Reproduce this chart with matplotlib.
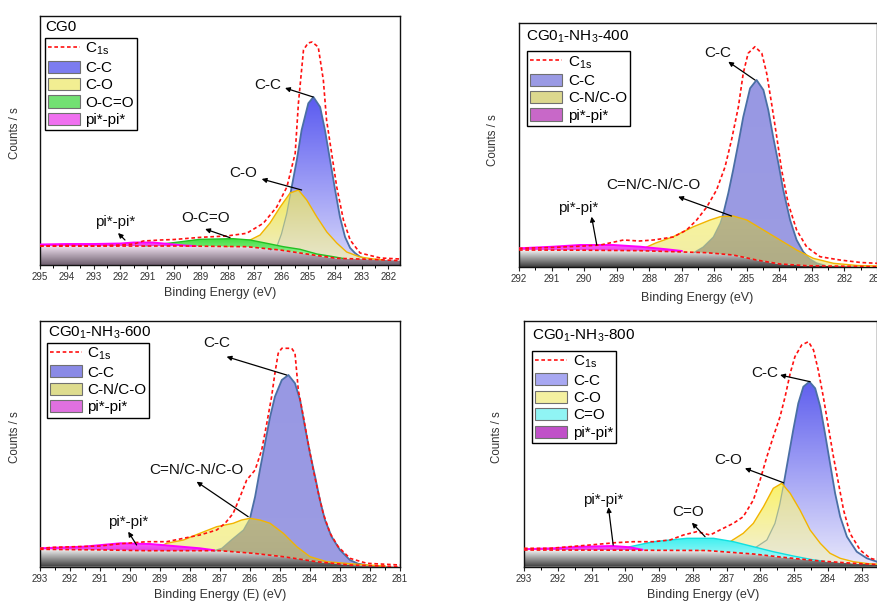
import numpy as np
import matplotlib
matplotlib.use("Agg")
import matplotlib.pyplot as plt
from matplotlib.patches import Polygon, Patch
from matplotlib.lines import Line2D
from matplotlib.ticker import MultipleLocator
from matplotlib.colors import to_rgb

plt.rcParams['font.family'] = ['Liberation Sans', 'DejaVu Sans']
plt.rcParams['mathtext.fontset'] = 'custom'
plt.rcParams['mathtext.rm'] = 'Liberation Sans'
plt.rcParams['mathtext.it'] = 'Liberation Sans:italic'

# ---------------- data (binding energy eV, intensity in arbitrary units) ----------------
# Panel 1 : CG0
p1_bg_E = [295, 289.78, 287.29, 286.04, 284.8, 283.93, 282.5, 281.57]
p1_bg_y = [18.8, 19.0, 18.3, 15.0, 10.0, 6.7, 5.5, 4.3]
p1_c1s_E = [295, 294, 293, 292, 291.5, 291.15, 290.5, 290, 289, 288.03, 287.29, 286.67, 286.17,
            285.79, 285.48, 285.36, 285.17, 285.0, 284.85, 284.62, 284.43, 284.31, 284.12, 283.93,
            283.68, 283.43, 283.06, 282.3, 281.57]
p1_c1s_y = [19, 19.5, 19, 20, 21, 24, 25, 25.5, 27.7, 29, 31.7, 41.7, 58, 78, 111.7, 161.7, 215,
            222, 223, 218, 185, 145, 111.7, 78, 45, 25, 12, 7, 6]
p1_cc_E = [286.4, 286.17, 285.98, 285.79, 285.61, 285.42, 285.24, 284.99, 284.8, 284.55, 284.37,
           284.18, 283.99, 283.81, 283.62, 283.43, 283.25, 283.05, 282.85]
p1_cc_y = [15.5, 18, 32, 52, 78, 105, 135, 161.7, 168, 158, 135, 105, 75, 48, 28, 17, 12, 8, 5.8]
p1_co_E = [288.0, 287.54, 287.16, 286.79, 286.42, 286.04, 285.67, 285.36, 285.05, 284.67, 284.3,
           283.93, 283.56, 283.06, 282.56, 282.2]
p1_co_y = [18.5, 22, 25, 30, 42, 58, 72, 75, 65, 48, 33, 22, 13, 8, 6, 5.2]
p1_ococ_E = [291.15, 290.03, 289.03, 287.79, 287.16, 286.54, 285.92, 285.3, 284.67, 284.06, 283.7]
p1_ococ_y = [19, 22.3, 25.7, 26.3, 25, 21.7, 18.3, 15.7, 11, 8.3, 6.6]
p1_pi_E = [295, 294, 293, 292, 291.5, 290.8, 290.2, 289.6, 289.2]
p1_pi_y = [20.5, 21, 21, 21.5, 22.5, 22.5, 21, 19.5, 19]

# Panel 2 : CG0_1-NH3-400
p2_bg_E = [292, 290, 288.28, 286.23, 285.42, 284.7, 283.98, 283.16, 281]
p2_bg_y = [17, 16.8, 16.3, 14.3, 12, 7, 3, 1.3, 0.3]
p2_c1s_E = [292, 291, 290, 289.5, 288.79, 288.3, 287.87, 287.26, 286.85, 286.54, 286.23, 285.93,
            285.67, 285.47, 285.26, 285.11, 284.96, 284.75, 284.54, 284.39, 284.24, 284.08, 283.93,
            283.73, 283.47, 283.16, 282.75, 282.14, 281.5, 281]
p2_c1s_y = [18.7, 19.5, 21, 22, 27, 26, 27, 30, 37, 47, 60, 77, 100, 127, 160, 193.7, 213.7, 220.3,
            213.7, 193.7, 163.7, 130, 97, 63.7, 37, 20, 10.3, 7, 4.5, 3.7]
p2_cc_E = [286.6, 286.34, 286.03, 285.82, 285.72, 285.57, 285.42, 285.26, 285.11, 284.9, 284.7,
           284.49, 284.34, 284.19, 284.03, 283.88, 283.67, 283.47, 283.27, 283.06, 282.85, 282.6]
p2_cc_y = [15, 20, 30, 43.7, 53.7, 73.7, 97, 123.7, 150, 178.7, 187, 177, 157, 130, 103.7, 77, 47,
           27, 15.3, 8, 4, 1.8]
p2_co_E = [288.28, 287.8, 287.26, 286.64, 286.13, 285.82, 285.42, 285.0, 284.49, 283.98, 283.47,
           282.96, 282.34, 281.6, 281.0]
p2_co_y = [17, 24, 30.3, 40.3, 47, 50.3, 51, 47, 37, 27, 17, 8.7, 3.7, 1.5, 1]
p2_pi_E = [292, 290.95, 290.13, 289.1, 288.28, 287.46, 287.0]
p2_pi_y = [18.7, 20.3, 22, 22, 20.3, 17.7, 16]

# Panel 3 : CG0_1-NH3-600
p3_bg_E = [293, 291, 289.44, 287.0, 285.89, 284.89, 283.78, 282.67, 281]
p3_bg_y = [17.4, 16.8, 16, 16, 13.4, 10, 5, 1.7, 0]
p3_c1s_E = [293, 292.56, 291.0, 290.3, 289.44, 288.78, 288.22, 287.67, 287.11, 286.83, 286.56,
            286.33, 286.11, 285.83, 285.61, 285.44, 285.28, 285.17, 285.06, 284.94, 284.61, 284.5,
            284.39, 284.22, 284.06, 283.89, 283.72, 283.56, 283.33, 283.06, 282.67, 282.11, 281]
p3_c1s_y = [18.4, 19.4, 20.7, 23, 25, 25, 28.4, 31.7, 36.7, 43.4, 53.4, 70, 86.7, 96.7, 116.7,
            143.4, 170, 193.4, 213.4, 218.4, 218.4, 213.4, 176.7, 150, 123.4, 96.7, 73.4, 53.4,
            33.4, 20, 8.4, 3.4, 1.7]
p3_cc_E = [287.2, 286.94, 286.56, 286.22, 286.0, 285.83, 285.67, 285.5, 285.33, 285.17, 284.94,
           284.72, 284.5, 284.33, 284.17, 284.0, 283.83, 283.67, 283.5, 283.28, 283.0, 282.67,
           282.4, 282.1]
p3_cc_y = [16, 18.4, 28.4, 36.7, 48.4, 70, 96.7, 123.4, 150, 170, 186.7, 191.7, 183.4, 166.7, 140,
           113.4, 90, 66.7, 46.7, 30, 16.7, 6.7, 3, 1.5]
p3_co_E = [289.0, 288.78, 288.22, 287.67, 287.11, 286.56, 286.28, 286.0, 285.67, 285.33, 284.89,
           284.44, 284.0, 283.44, 282.67, 282.0, 281.5]
p3_co_y = [20, 23.4, 26.7, 33.4, 40, 43.4, 46.7, 48.4, 46.7, 43.4, 33.4, 20, 10, 5, 3, 1.5, 0.8]
p3_pi_E = [293, 291.56, 290.33, 289.33, 288.56, 287.67, 287.2]
p3_pi_y = [18.4, 20, 23.4, 22.7, 20.7, 18.4, 16.5]

# Panel 4 : CG0_1-NH3-800
p4_bg_E = [293, 290, 287.6, 286.21, 285.22, 284.23, 283.25, 282.55]
p4_bg_y = [16.7, 16.5, 16.2, 12.7, 9, 5.7, 3.4, 2.2]
p4_c1s_E = [293, 292.23, 291.05, 290.3, 289.76, 289.17, 288.68, 288.28, 287.89, 287.49, 287.2,
            286.8, 286.51, 286.21, 286.01, 285.81, 285.62, 285.42, 285.27, 285.12, 284.98, 284.78,
            284.58, 284.43, 284.29, 284.14, 283.99, 283.84, 283.69, 283.54, 283.35, 283.05,
            282.75, 282.55]
p4_c1s_y = [18.4, 18.4, 21.7, 24, 25, 25, 26.7, 31.7, 35, 31.7, 36.7, 43.4, 50, 66.7, 86.7, 110,
            130, 150, 170, 193.4, 210, 221.7, 225, 216.7, 196.7, 170, 140, 110, 83.4, 56.7, 33.4,
            16.7, 8.4, 6.7]
p4_cc_E = [286.4, 286.11, 285.81, 285.57, 285.42, 285.3, 285.17, 285.03, 284.88, 284.73, 284.55,
           284.38, 284.23, 284.09, 283.94, 283.79, 283.64, 283.44, 283.15, 282.85, 282.55]
p4_cc_y = [13.5, 20, 26.7, 43.4, 63.4, 85, 110, 136.7, 163.4, 180, 185, 178.4, 160, 133.4, 103.4,
           73.4, 50, 30, 15, 8.4, 5]
p4_co_E = [287.8, 287.49, 286.9, 286.51, 286.21, 285.91, 285.62, 285.37, 285.12, 284.83, 284.53,
           284.23, 283.94, 283.64, 283.25, 282.8, 282.55]
p4_co_y = [16.5, 18.4, 25, 33.4, 43.4, 60, 78.4, 83.4, 73.4, 56.7, 36.7, 23.4, 13.4, 8.4, 5, 3, 2.5]
p4_cdo_E = [290.16, 289.86, 289.17, 288.18, 287.39, 286.8, 286.21, 285.62, 285.03, 284.43, 284.1]
p4_cdo_y = [17, 20, 25, 28.4, 28.4, 25, 20, 15, 10.7, 6.8, 5.4]
p4_pi_E = [293, 292.13, 291.34, 290.36, 289.86, 289.5]
p4_pi_y = [17.5, 18.4, 20, 20.7, 19.4, 17]

# ---------------- figure ----------------
W, Hf = 878, 601
fig = plt.figure(figsize=(W / 100, Hf / 100), dpi=100)

ANN_FS = 11
LEG_FS = 11
TITLE_FS = 11
TICK_FS = 7
XLAB_FS = 9
YLAB_FS = 8.3


def px_axes(x0, x1, ytop, ybot):
    return fig.add_axes([x0 / W, 1 - ybot / Hf, (x1 - x0) / W, (ybot - ytop) / Hf])


def grad_fill(ax, xs, top, bot, c_top, c_bot, z, alpha=1.0):
    mask = top > bot + 1e-6
    if not mask.any():
        return
    verts = np.column_stack([np.r_[xs, xs[::-1]], np.r_[top, bot[::-1]]])
    poly = Polygon(verts, closed=True, facecolor='none', edgecolor='none')
    ax.add_patch(poly)
    t = np.linspace(0, 1, 256)[:, None]
    ct, cb = np.array(to_rgb(c_top)), np.array(to_rgb(c_bot))
    img = (ct[None, None, :] * (1 - t[:, :, None]) + cb[None, None, :] * t[:, :, None])
    ylo = bot[mask].min()
    yhi = top[mask].max()
    im = ax.imshow(img, extent=[xs.min(), xs.max(), ylo, yhi], aspect='auto',
                   origin='upper', zorder=z, alpha=alpha, interpolation='bilinear')
    im.set_clip_path(poly)


def draw_panel(ax, xlim, H, bg, c1s, cc, co, extra, pi, st):
    xg = np.linspace(min(xlim), max(xlim), 900)
    bE, by = np.array(bg[0]), np.array(bg[1])
    o = np.argsort(bE)
    bg_g = np.interp(xg, bE[o], by[o])

    def grid(E, y):
        E, y = np.array(E), np.array(y)
        o = np.argsort(E)
        g = np.interp(xg, E[o], y[o], left=np.nan, right=np.nan)
        return np.where(np.isnan(g), bg_g, np.maximum(g, bg_g))

    # shirley background band
    grad_fill(ax, xg, bg_g, np.zeros_like(xg), st['band'][0], st['band'][1], 1)
    cc_g = grid(*cc)
    co_g = grid(*co)
    grad_fill(ax, xg, cc_g, bg_g, st['cc'][0], st['cc'][1], 2)
    ax.plot(cc[0], cc[1], color='#4a6fa5', lw=1.3, zorder=3, solid_capstyle='round')
    grad_fill(ax, xg, co_g, bg_g, st['co'][0], st['co'][1], 4)
    ov = np.minimum(cc_g, co_g)
    grad_fill(ax, xg, ov, bg_g, st['ov'][0], st['ov'][1], 5)
    faint = np.where((cc_g < co_g - 0.5) & (cc_g > bg_g + 0.5), cc_g, np.nan)
    ax.plot(xg, faint, color='#8fa890', lw=0.9, alpha=0.8, zorder=5.5)
    ax.plot(co[0], co[1], color='#f2b400', lw=1.0, zorder=6)
    if extra is not None:
        ex_g = grid(extra[0], extra[1])
        grad_fill(ax, xg, ex_g, bg_g, extra[2], extra[3], 6.5)
        ax.plot(extra[0], extra[1], color=extra[4], lw=1.0, zorder=6.6)
    pi_g = grid(*pi)
    grad_fill(ax, xg, pi_g, bg_g, '#ff55ff', '#e040e0', 6.7)
    ax.plot(pi[0], pi[1], color='#ff00ff', lw=1.4, zorder=6.8)
    ax.plot(bg[0], bg[1], color='#ff1010', lw=1.2, ls=(0, (2.2, 1.6)), zorder=7)
    ax.plot(c1s[0], c1s[1], color='#ff1010', lw=1.2, ls=(0, (2.2, 1.6)), zorder=8)

    ax.set_xlim(*xlim)
    ax.set_ylim(0, H)
    ax.set_yticks([])
    ax.xaxis.set_major_locator(MultipleLocator(1))
    ax.xaxis.set_minor_locator(MultipleLocator(0.5))
    ax.tick_params(axis='x', which='major', direction='out', length=3, width=0.8,
                   labelsize=TICK_FS, pad=2, colors='#222222', labelcolor='#333333')
    ax.tick_params(axis='x', which='minor', direction='out', length=2, width=0.7)
    for s in ax.spines.values():
        s.set_linewidth(1.0)
        s.set_color('#111111')


def annotate(ax, label, text_xy, tail, head, fs=ANN_FS):
    ax.annotate('', xy=head, xytext=tail,
                arrowprops=dict(arrowstyle='-|>', color='black', lw=0.9,
                                mutation_scale=7, shrinkA=0, shrinkB=0), zorder=10)
    ax.text(text_xy[0], text_xy[1], label, ha='center', va='center', fontsize=fs,
            color='#111111', zorder=11)


def legend(ax, labels, colors, anchor):
    handles = [Line2D([], [], color='#ff1010', lw=1.2, ls=(0, (2.2, 1.6)))]
    handles += [Patch(facecolor=c, edgecolor='#707070', lw=0.8) for c in colors]
    leg = ax.legend(handles, [r'C$_{\rm 1s}$'] + labels, loc='upper left', bbox_to_anchor=anchor,
                    frameon=True, fancybox=False, edgecolor='black', framealpha=1,
                    fontsize=LEG_FS, handlelength=2.1, handleheight=0.85, labelspacing=0.2,
                    borderpad=0.2, handletextpad=0.35, borderaxespad=0)
    leg.get_frame().set_linewidth(1.0)
    leg.set_zorder(12)


def ftext(x, y, s, **kw):
    fig.text(x / W, 1 - y / Hf, s, **kw)


style_grad = dict(band=('#f0e2f0', '#6e5e6e'), cc=('#5a5af0', '#d4d4fa'),
                  co=('#f2ea5a', '#efedcc'), ov=('#d6d282', '#e8e6c8'))
style_flat = dict(band=('#f4f4f4', '#3c3c3c'), cc=('#9898e4', '#9c9ce2'),
                  co=('#f8f49c', '#f0eca8'), ov=('#b8b488', '#b0ac86'))
style_p4 = dict(band=('#f4f4f4', '#3c3c3c'), cc=('#6060ee', '#e6e6fb'),
                co=('#faf26a', '#f2f0de'), ov=('#e2de9a', '#ecebd8'))

# Panel 1
ax1 = px_axes(40, 400, 16, 265)
draw_panel(ax1, (295, 281.57), 249, (p1_bg_E, p1_bg_y), (p1_c1s_E, p1_c1s_y),
           (p1_cc_E, p1_cc_y), (p1_co_E, p1_co_y),
           (p1_ococ_E, p1_ococ_y, '#3ee03e', '#a8f0a8', '#22c022'), (p1_pi_E, p1_pi_y),
           style_grad)
annotate(ax1, 'C-C', (286.49, 180), (284.81, 168), (285.86, 177))
annotate(ax1, 'C-O', (287.43, 92), (285.24, 75), (286.73, 86))
annotate(ax1, 'O-C=O', (288.84, 47), (287.91, 27.3), (288.84, 36))
annotate(ax1, 'pi*-pi*', (292.2, 43), (291.83, 25), (292.09, 32))
ax1.text(0.014, 0.956, 'CG0', transform=ax1.transAxes, ha='left', va='center', fontsize=TITLE_FS)
legend(ax1, ['C-C', 'C-O', 'O-C=O', 'pi*-pi*'], ['#7c7cf0', '#f2ee92', '#72e072', '#f070f0'],
       (0.0139, 0.9116))
ftext(220, 293, 'Binding Energy (eV)', ha='center', va='center', fontsize=XLAB_FS, color='#333333')
ftext(15, 133, 'Counts / s', ha='center', va='center', rotation=90, fontsize=YLAB_FS, color='#333333')

# Panel 2
ax2 = px_axes(519, 877, 23.3, 267)
draw_panel(ax2, (292, 281), 243.7, (p2_bg_E, p2_bg_y), (p2_c1s_E, p2_c1s_y),
           (p2_cc_E, p2_cc_y), (p2_co_E, p2_co_y), None, (p2_pi_E, p2_pi_y), style_flat)
annotate(ax2, 'C-C', (285.89, 214), (284.75, 187), (285.57, 205.3))
annotate(ax2, 'C=N/C-N/C-O', (287.87, 82), (285.47, 51), (287.11, 70.3))
annotate(ax2, 'pi*-pi*', (290.18, 59), (289.61, 22), (289.77, 50.3))
ax2.text(0.0196, 0.944, r'CG0$_{\rm 1}$-NH$_{\rm 3}$-400', transform=ax2.transAxes,
         ha='left', va='center', fontsize=TITLE_FS)
legend(ax2, ['C-C', 'C-N/C-O', 'pi*-pi*'], ['#9a9ae4', '#dcd88e', '#c868c8'], (0.0232, 0.886))
ftext(697, 298.5, 'Binding Energy (eV)', ha='center', va='center', fontsize=XLAB_FS, color='#333333')
ftext(493, 140, 'Counts / s', ha='center', va='center', rotation=90, fontsize=YLAB_FS, color='#333333')

# Panel 3
ax3 = px_axes(40, 400, 320.7, 566.7)
draw_panel(ax3, (293, 281), 246, (p3_bg_E, p3_bg_y), (p3_c1s_E, p3_c1s_y),
           (p3_cc_E, p3_cc_y), (p3_co_E, p3_co_y), None, (p3_pi_E, p3_pi_y), style_flat)
annotate(ax3, 'C-C', (287.11, 223.4), (284.78, 191.7), (286.78, 210))
annotate(ax3, 'C=N/C-N/C-O', (287.78, 96.7), (286.06, 50), (287.78, 85))
annotate(ax3, 'pi*-pi*', (290.06, 45), (289.78, 21.7), (290.06, 35))
ax3.text(0.023, 0.949, r'CG0$_{\rm 1}$-NH$_{\rm 3}$-600', transform=ax3.transAxes,
         ha='left', va='center', fontsize=TITLE_FS)
legend(ax3, ['C-C', 'C-N/C-O', 'pi*-pi*'], ['#8a8ae6', '#dedc8e', '#e070e0'], (0.0186, 0.9106))
ftext(220, 595, 'Binding Energy (E) (eV)', ha='center', va='center', fontsize=XLAB_FS, color='#333333')
ftext(15, 437, 'Counts / s', ha='center', va='center', rotation=90, fontsize=YLAB_FS, color='#333333')

# Panel 4
ax4 = px_axes(524, 877, 320.7, 566.7)
draw_panel(ax4, (293, 282.55), 246, (p4_bg_E, p4_bg_y), (p4_c1s_E, p4_c1s_y),
           (p4_cc_E, p4_cc_y), (p4_co_E, p4_co_y),
           (p4_cdo_E, p4_cdo_y, '#3ef0f0', '#b0f8f8', '#10e0e0'), (p4_pi_E, p4_pi_y), style_p4)
annotate(ax4, 'C-C', (285.86, 193.4), (284.53, 185), (285.42, 191.7))
annotate(ax4, 'C-O', (286.95, 106.7), (285.32, 84), (286.46, 98.4))
annotate(ax4, 'C=O', (288.13, 55), (287.64, 30), (288.03, 44))
annotate(ax4, 'pi*-pi*', (290.65, 66.7), (290.36, 21.7), (290.5, 59.4))
ax4.text(0.0218, 0.938, r'CG0$_{\rm 1}$-NH$_{\rm 3}$-800', transform=ax4.transAxes,
         ha='left', va='center', fontsize=TITLE_FS)
legend(ax4, ['C-C', 'C-O', 'C=O', 'pi*-pi*'], ['#a8a8f2', '#f4f0a0', '#90f4f4', '#c050c8'],
       (0.0235, 0.878))
ftext(703, 595, 'Binding Energy (eV)', ha='center', va='center', fontsize=XLAB_FS, color='#333333')
ftext(497, 437, 'Counts / s', ha='center', va='center', rotation=90, fontsize=YLAB_FS, color='#333333')

fig.savefig('out.png', dpi=100)
